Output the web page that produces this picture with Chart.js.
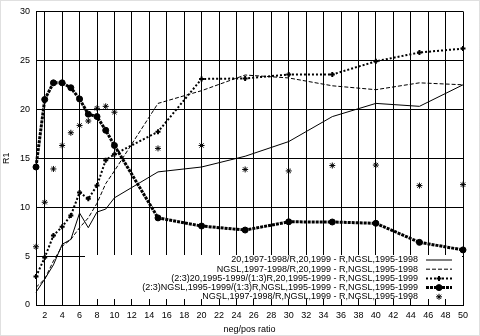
<!DOCTYPE html>
<html>
<head>
<meta charset="utf-8">
<script src="https://cdn.jsdelivr.net/npm/chart.js@4.4.1/dist/chart.umd.min.js"></script>
<style>
  html, body { margin: 0; padding: 0; background: #fff; }
  canvas { display: block; }
</style>
</head>
<body>
<canvas id="ratioChart" width="480" height="336"></canvas>
<script>
// x positions (neg/pos ratio) where every series was sampled
const ratios = [1, 2, 3, 4, 5, 6, 7, 8, 9, 10, 15, 20, 25, 30, 35, 40, 45, 50];
const xTicks = [2, 4, 6, 8, 10, 12, 14, 16, 18, 20, 22, 24, 26, 28, 30, 32, 34, 36, 38, 40, 42, 44, 46, 48, 50];
const yTicks = [0, 5, 10, 15, 20, 25, 30];

const seriesNames = [
    '20,1997-1998/R,20,1999 - R,NGSL,1995-1998',
    'NGSL,1997-1998/R,20,1999 - R,NGSL,1995-1998',
    '(2:3)20,1995-1999/(1:3)R,20,1995-1999 - R,NGSL,1995-1999',
    '(2:3)NGSL,1995-1999/(1:3)R,NGSL,1995-1999 - R,NGSL,1995-1999',
    'NGSL,1997-1998/R,NGSL,1999 - R,NGSL,1995-1998'
];

// R1 values
const r20Solid   = [1.3, 2.65, 4.1, 6.2, 6.7, 9.4, 7.9, 9.5, 9.8, 10.95, 13.6, 14.1, 15.2, 16.7, 19.25, 20.6, 20.3, 22.5];
const ngslDashed = [1.8, 2.65, 4.5, 6.0, 6.7, 7.9, 8.9, 10.4, 12.4, 13.7, 20.6, 21.9, 23.5, 23.2, 22.4, 22.0, 22.7, 22.5];
const mix20      = [2.9, 4.85, 7.1, 8.0, 9.15, 11.5, 10.85, 12.2, 14.8, 15.4, 17.7, 23.1, 23.15, 23.55, 23.55, 24.9, 25.8, 26.2];
const mixNgsl    = [14.1, 21.0, 22.7, 22.7, 22.2, 21.05, 19.5, 19.25, 17.85, 16.3, 8.9, 8.07, 7.66, 8.5, 8.48, 8.35, 6.4, 5.63];
const ngslStars  = [5.95, 10.5, 13.9, 16.3, 17.6, 18.35, 18.8, 20.1, 20.3, 19.7, 16.0, 16.3, 13.85, 13.7, 14.25, 14.3, 12.2, 12.3];

const FONT = { family: '"Liberation Sans", Arial, sans-serif', size: 9 };
const toPoints = vals => vals.map((v, i) => ({ x: ratios[i], y: v }));

// white legend panel over the grid, with right-aligned entries and samples after the text
const legendPanel = {
    id: 'legendPanel',
    beforeDatasetsDraw(chart) {
        const { ctx, chartArea } = chart;
        ctx.save();
        ctx.fillStyle = '#fff';
        ctx.fillRect(85, chartArea.bottom - 50, chartArea.right - 86, 44);
        ctx.restore();
    },
    afterDraw(chart) {
        const { ctx, chartArea } = chart;
        const textRight = 418;
        const lineStart = 426, lineEnd = 452, markX = 439;
        ctx.save();
        ctx.font = FONT.size + 'px ' + FONT.family;
        ctx.textAlign = 'right';
        ctx.textBaseline = 'middle';
        chart.data.datasets.forEach((ds, i) => {
            const y = chartArea.bottom - 45 + i * 9.2;
            ctx.fillStyle = '#000';
            ctx.fillText(ds.label, textRight, y);
            ctx.strokeStyle = '#000';
            if (ds.showLine !== false) {
                ctx.lineWidth = ds.borderWidth;
                ctx.setLineDash(ds.borderDash || []);
                ctx.beginPath();
                ctx.moveTo(lineStart, y);
                ctx.lineTo(lineEnd, y);
                ctx.stroke();
                ctx.setLineDash([]);
            }
            if (ds.pointRadius > 0) {
                ctx.lineWidth = ds.pointBorderWidth;
                Chart.helpers.drawPoint(ctx, {
                    pointStyle: ds.pointStyle,
                    radius: ds.pointRadius,
                    borderWidth: ds.pointBorderWidth,
                    rotation: 0
                }, markX, y);
            }
        });
        // faint frame round the picture
        ctx.strokeStyle = '#c0c0c0';
        ctx.lineWidth = 1;
        ctx.setLineDash([1, 1]);
        ctx.strokeRect(0.5, 0.5, chart.width - 1, chart.height - 1);
        ctx.restore();
    }
};

const baseSet = {
    borderColor: '#000',
    backgroundColor: '#000',
    tension: 0,
    clip: false
};

new Chart(document.getElementById('ratioChart'), {
    type: 'line',
    data: {
        datasets: [
            { ...baseSet, label: seriesNames[0], data: toPoints(r20Solid),
              borderWidth: 1, pointRadius: 0 },
            { ...baseSet, label: seriesNames[1], data: toPoints(ngslDashed),
              borderWidth: 1, borderDash: [4, 2], pointRadius: 0 },
            { ...baseSet, label: seriesNames[2], data: toPoints(mix20),
              borderWidth: 2, borderDash: [2, 2],
              pointStyle: 'cross', pointRadius: 2.5, pointBorderWidth: 2 },
            { ...baseSet, label: seriesNames[3], data: toPoints(mixNgsl),
              borderWidth: 3, borderDash: [3, 1],
              pointStyle: 'circle', pointRadius: 3, pointBorderWidth: 1 },
            { ...baseSet, label: seriesNames[4], data: toPoints(ngslStars),
              showLine: false, borderWidth: 1,
              pointStyle: 'star', pointRadius: 3, pointBorderWidth: 1 }
        ]
    },
    options: {
        responsive: false,
        animation: false,
        layout: { padding: { top: 11, right: 17, left: 0, bottom: 0 } },
        plugins: {
            legend: { display: false },
            tooltip: { enabled: false }
        },
        scales: {
            x: {
                type: 'linear',
                min: 1,
                max: 50,
                afterBuildTicks: scale => { scale.ticks = xTicks.map(v => ({ value: v })); },
                afterFit: scale => { scale.height = 31; },
                grid: { color: '#000', lineWidth: 1, drawTicks: false },
                border: { display: true, color: '#000' },
                ticks: { color: '#000', font: FONT, padding: 5, maxRotation: 0, autoSkip: false },
                title: { display: true, text: 'neg/pos ratio', color: '#000', font: FONT, padding: { top: 0, bottom: 1 } }
            },
            y: {
                min: 0,
                max: 30,
                afterBuildTicks: scale => { scale.ticks = yTicks.map(v => ({ value: v })); },
                afterFit: scale => { scale.width = 36; },
                grid: { color: '#000', lineWidth: 1, drawTicks: false },
                border: { display: true, color: '#000' },
                ticks: { color: '#000', font: FONT, padding: 6 },
                title: { display: true, text: 'R1', color: '#000', font: FONT, padding: { top: 1, bottom: 0 } }
            }
        }
    },
    plugins: [legendPanel]
});
</script>
</body>
</html>
